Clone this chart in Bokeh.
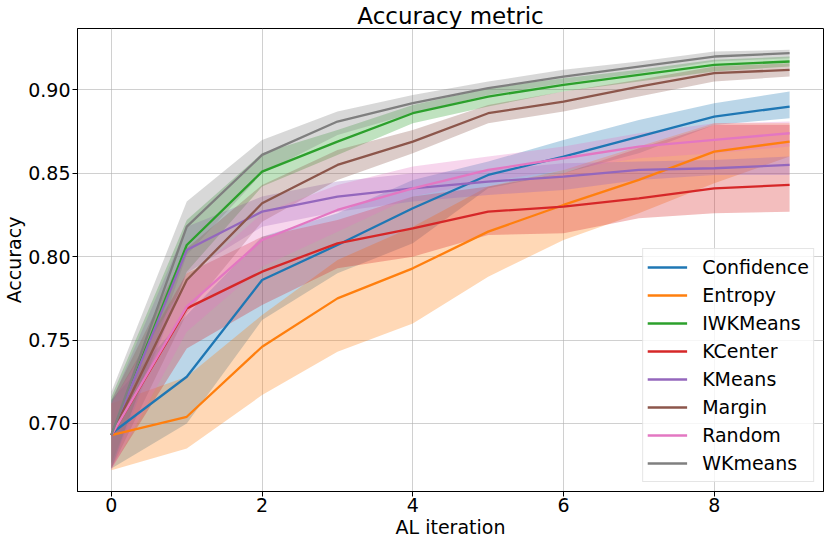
from bokeh.plotting import figure
from bokeh.models import Range1d, FixedTicker, Legend
from bokeh.embed import file_html
from bokeh.resources import INLINE

iterations = [0, 1, 2, 3, 4, 5, 6, 7, 8, 9]

series_names = ["Confidence", "Entropy", "IWKMeans", "KCenter", "KMeans", "Margin", "Random", "WKmeans"]
series_colors = ["#1f77b4", "#ff7f0e", "#2ca02c", "#d62728", "#9467bd", "#8c564b", "#e377c2", "#7f7f7f"]

confidence_mean = [0.694, 0.728, 0.786, 0.807, 0.829, 0.849, 0.860, 0.872, 0.884, 0.890]
confidence_low = [0.673, 0.700, 0.762, 0.790, 0.808, 0.841, 0.850, 0.862, 0.879, 0.883]
confidence_high = [0.714, 0.765, 0.812, 0.826, 0.846, 0.857, 0.870, 0.882, 0.892, 0.899]

entropy_mean = [0.693, 0.704, 0.746, 0.775, 0.793, 0.815, 0.831, 0.846, 0.863, 0.869]
entropy_low = [0.672, 0.685, 0.717, 0.743, 0.760, 0.788, 0.810, 0.826, 0.844, 0.860]
entropy_high = [0.712, 0.728, 0.765, 0.798, 0.818, 0.842, 0.852, 0.866, 0.880, 0.880]

iwkmeans_mean = [0.693, 0.807, 0.851, 0.869, 0.886, 0.896, 0.903, 0.909, 0.915, 0.917]
iwkmeans_low = [0.676, 0.791, 0.842, 0.861, 0.880, 0.890, 0.899, 0.905, 0.911, 0.914]
iwkmeans_high = [0.716, 0.822, 0.862, 0.876, 0.891, 0.901, 0.907, 0.912, 0.918, 0.920]

kcenter_mean = [0.693, 0.769, 0.791, 0.808, 0.817, 0.827, 0.830, 0.835, 0.841, 0.843]
kcenter_low = [0.673, 0.745, 0.771, 0.793, 0.800, 0.813, 0.814, 0.823, 0.826, 0.827]
kcenter_high = [0.712, 0.790, 0.812, 0.822, 0.836, 0.842, 0.850, 0.865, 0.879, 0.879]

kmeans_mean = [0.693, 0.804, 0.827, 0.836, 0.841, 0.845, 0.848, 0.852, 0.853, 0.855]
kmeans_low = [0.673, 0.790, 0.818, 0.827, 0.833, 0.837, 0.840, 0.846, 0.849, 0.849]
kmeans_high = [0.713, 0.818, 0.836, 0.845, 0.850, 0.852, 0.856, 0.857, 0.858, 0.860]

margin_mean = [0.693, 0.786, 0.832, 0.855, 0.869, 0.886, 0.893, 0.902, 0.910, 0.912]
margin_low = [0.673, 0.766, 0.821, 0.846, 0.862, 0.880, 0.887, 0.896, 0.905, 0.908]
margin_high = [0.714, 0.805, 0.843, 0.864, 0.876, 0.891, 0.899, 0.906, 0.914, 0.916]

random_mean = [0.693, 0.770, 0.810, 0.828, 0.841, 0.852, 0.859, 0.866, 0.870, 0.874]
random_low = [0.672, 0.755, 0.794, 0.815, 0.836, 0.845, 0.852, 0.859, 0.862, 0.866]
random_high = [0.712, 0.786, 0.826, 0.843, 0.854, 0.860, 0.866, 0.874, 0.880, 0.881]

wkmeans_mean = [0.693, 0.818, 0.861, 0.881, 0.892, 0.901, 0.908, 0.914, 0.920, 0.922]
wkmeans_low = [0.673, 0.801, 0.850, 0.873, 0.886, 0.897, 0.904, 0.910, 0.917, 0.919]
wkmeans_high = [0.719, 0.833, 0.870, 0.887, 0.897, 0.905, 0.912, 0.917, 0.923, 0.924]

x_ticks = [0, 2, 4, 6, 8]
y_ticks = [0.70, 0.75, 0.80, 0.85, 0.90]
y_tick_labels = ["0.70", "0.75", "0.80", "0.85", "0.90"]

title_text = "Accuracy metric"
x_label_text = "AL iteration"
y_label_text = "Accuracy"

means = [confidence_mean, entropy_mean, iwkmeans_mean, kcenter_mean, kmeans_mean, margin_mean, random_mean, wkmeans_mean]
lows = [confidence_low, entropy_low, iwkmeans_low, kcenter_low, kmeans_low, margin_low, random_low, wkmeans_low]
highs = [confidence_high, entropy_high, iwkmeans_high, kcenter_high, kmeans_high, margin_high, random_high, wkmeans_high]

FONT = "DejaVu Sans"

x_start, x_end = -0.45, 9.45
y_start, y_end = 0.6592, 0.9368

p = figure(width=830, height=543, output_backend="svg", toolbar_location=None,
           title=title_text,
           x_range=Range1d(x_start, x_end), y_range=Range1d(y_start, y_end),
           min_border_left=76, min_border_right=7, min_border_top=28, min_border_bottom=52)
p.background_fill_color = "white"
p.border_fill_color = "white"
p.outline_line_color = "black"
p.outline_line_width = 1

p.title.text_font = FONT
p.title.text_font_size = "23px"
p.title.text_font_style = "normal"
p.title.text_color = "black"
p.title.align = "center"
p.title.standoff = 0

# bands first (matplotlib draws fills below lines)
for name, col, lo, hi in zip(series_names, series_colors, lows, highs):
    p.varea(x=iterations, y1=lo, y2=hi, fill_color=col, fill_alpha=0.3)

line_renderers = []
for name, col, m in zip(series_names, series_colors, means):
    r = p.line(iterations, m, line_color=col, line_width=2.3)
    line_renderers.append((name, r))

# axes
for ax in (p.xaxis[0], p.yaxis[0]):
    ax.axis_line_color = "black"
    ax.major_tick_line_color = "black"
    ax.major_tick_out = 5
    ax.major_tick_in = 0
    ax.minor_tick_line_color = None
    ax.major_label_text_font = FONT
    ax.major_label_text_font_size = "19px"
    ax.major_label_text_color = "black"
    ax.axis_label_text_font = FONT
    ax.axis_label_text_font_size = "19px"
    ax.axis_label_text_font_style = "normal"
    ax.axis_label_text_color = "black"
    ax.axis_label_text_line_height = 1.0

p.xaxis[0].ticker = FixedTicker(ticks=x_ticks)
p.xaxis[0].major_label_standoff = 1
p.xaxis[0].axis_label = x_label_text
p.xaxis[0].axis_label_standoff = 1
p.yaxis[0].ticker = FixedTicker(ticks=y_ticks)
p.yaxis[0].major_label_overrides = {t: s for t, s in zip(y_ticks, y_tick_labels)}
p.yaxis[0].major_label_standoff = 2
p.yaxis[0].axis_label = y_label_text
p.yaxis[0].axis_label_standoff = 0

p.xgrid.grid_line_color = "#b0b0b0"
p.xgrid.grid_line_alpha = 0.6
p.xgrid.grid_line_width = 1
p.ygrid.grid_line_color = "#b0b0b0"
p.ygrid.grid_line_alpha = 0.6
p.ygrid.grid_line_width = 1

legend = Legend(items=[(n, [r]) for n, r in line_renderers], location="bottom_right")
legend.label_text_font = FONT
legend.label_text_font_size = "19px"
legend.label_text_color = "black"
legend.glyph_width = 40
legend.glyph_height = 28
legend.label_height = 28
legend.label_standoff = 15
legend.spacing = 0
legend.padding = 4
legend.margin = 9
legend.border_line_color = "#cccccc"
legend.border_line_width = 1
legend.background_fill_color = "white"
legend.background_fill_alpha = 0.8
p.add_layout(legend, "center")

open("out.html", "w").write(file_html(p, INLINE))
